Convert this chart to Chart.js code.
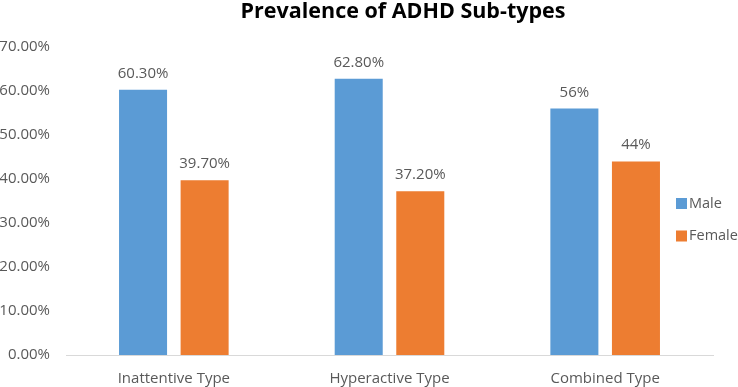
<!DOCTYPE html>
<html>
<head>
<meta charset="utf-8">
<script src="https://cdn.jsdelivr.net/npm/chart.js@4.4.1/dist/chart.umd.min.js"></script>
<style>
  html, body { margin: 0; padding: 0; background: #fff; overflow: hidden; }
  #wrap { width: 738px; height: 387px; }
</style>
</head>
<body>
<div id="wrap"><canvas id="c" width="738" height="387"></canvas></div>
<script>
const categories = ["Inattentive Type", "Hyperactive Type", "Combined Type"];
const maleValues = [60.3, 62.8, 56];
const femaleValues = [39.7, 37.2, 44];
const yTicks = [0, 10, 20, 30, 40, 50, 60, 70];

const BLUE = "#5B9BD5";
const ORANGE = "#ED7D31";
const GREY = "#595959";
const FONT = "'Open Sans', 'Liberation Sans', sans-serif";

function fmtLabel(v) {
  return Number.isInteger(v) ? v + "%" : v.toFixed(2) + "%";
}

// title + value labels + legend, drawn by hand so they sit where Excel put them
const extras = {
  id: "extras",
  afterDatasetsDraw(chart) {
    const ctx = chart.ctx;
    ctx.save();

    ctx.font = "15px " + FONT;
    ctx.fillStyle = GREY;
    ctx.textAlign = "center";
    ctx.textBaseline = "alphabetic";
    chart.data.datasets.forEach((ds, i) => {
      chart.getDatasetMeta(i).data.forEach((bar, j) => {
        ctx.fillText(fmtLabel(ds.data[j]), bar.x, bar.y - 12);
      });
    });

    ctx.font = "bold 21.5px " + FONT;
    ctx.fillStyle = "#000";
    ctx.fillText("Prevalence of ADHD Sub-types", 403, 18);

    ctx.font = "14.5px " + FONT;
    ctx.textAlign = "left";
    ctx.textBaseline = "middle";
    chart.data.datasets.forEach((ds, i) => {
      const y = 203.5 + i * 32.5;
      ctx.fillStyle = ds.backgroundColor;
      ctx.fillRect(676, y - 5.5, 11, 11);
      ctx.fillStyle = GREY;
      ctx.fillText(ds.label, 689, y);
    });
    ctx.restore();
  }
};

new Chart(document.getElementById("c"), {
  type: "bar",
  data: {
    labels: categories,
    datasets: [
      { label: "Male", data: maleValues, backgroundColor: BLUE },
      { label: "Female", data: femaleValues, backgroundColor: ORANGE },
    ],
  },
  options: {
    responsive: false,
    animation: false,
    layout: { padding: { top: 47, right: 25, left: 0, bottom: 0 } },
    categoryPercentage: 0.571,
    barPercentage: 0.78,
    plugins: {
      legend: { display: false },
      title: { display: false },
      tooltip: { enabled: false },
    },
    scales: {
      x: {
        grid: { display: false, drawTicks: false },
        border: { display: true, color: "#D9D9D9", width: 1 },
        ticks: { color: GREY, font: { family: FONT, size: 15 }, padding: 15 },
        afterFit: (s) => { s.height = 32; },
      },
      y: {
        min: 0,
        max: 70,
        grid: { display: false, drawTicks: false },
        border: { display: false },
        afterBuildTicks: (s) => { s.ticks = yTicks.map((v) => ({ value: v })); },
        ticks: {
          color: GREY,
          font: { family: FONT, size: 15 },
          padding: 16,
          callback: (v) => v.toFixed(2) + "%",
        },
        afterFit: (s) => { s.width = 66; },
      },
    },
  },
  plugins: [extras],
});
</script>
</body>
</html>
